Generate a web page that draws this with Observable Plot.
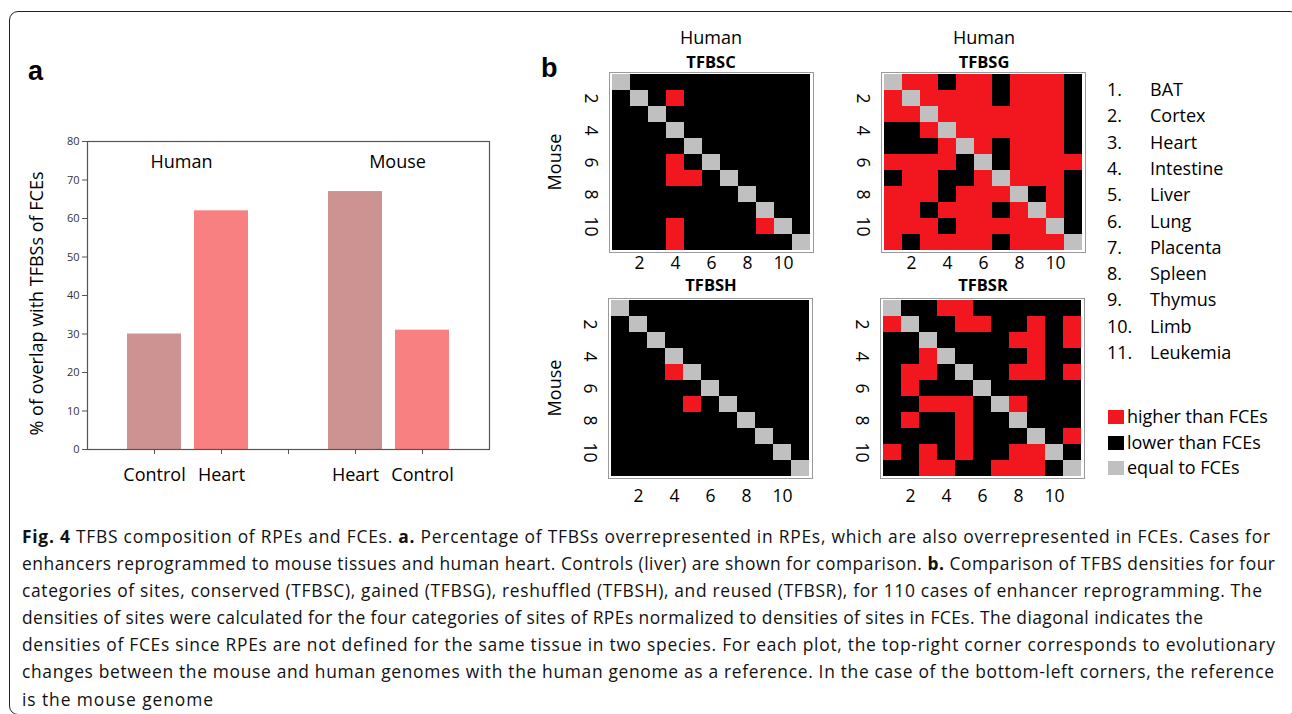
<!DOCTYPE html>
<html>
<head>
<meta charset="utf-8">
<script src="https://cdn.jsdelivr.net/npm/d3@7"></script>
<script src="https://cdn.jsdelivr.net/npm/@observablehq/plot@0.6"></script>
<style>
  html, body { margin: 0; padding: 0; background: #fff; }
  body { width: 1292px; height: 714px; position: relative; overflow: hidden; font-family: "Open Sans", sans-serif; color: #000; }
  .abs { position: absolute; }
  .ctr { transform: translate(-50%, -50%); white-space: nowrap; line-height: 1; }
  #frame { left: 9px; top: 11px; width: 1290px; height: 704px; border: 1.5px solid #222; border-radius: 9px; box-sizing: border-box; }
  .panel { font-family: "Liberation Sans", Arial, sans-serif; font-weight: bold; font-size: 27px; line-height: 1; }
  .t18 { font-size: 18px; }
  .tb { font-size: 16.5px; font-weight: bold; }
  #caption { left: 22px; top: 523px; font-size: 17.4px; line-height: 27.1px; white-space: nowrap; color: #111; }
  #caption div { display: block; }
  #caption span.ln { display: inline-block; }
  #caption b { font-weight: 700; }
  .legrow { font-size: 18px; white-space: nowrap; line-height: 26px; }
  .sw { display: inline-block; width: 16px; height: 14px; vertical-align: -1px; margin-right: 3px; }
</style>
</head>
<body>
<div id="frame" class="abs"></div>
<div class="abs panel" style="left:28px;top:58px;">a</div>
<div class="abs panel" style="left:541px;top:55px;">b</div>
<div id="bars" class="abs" style="left:0;top:100px;"></div>
<div id="hC" class="abs"></div>
<div id="hG" class="abs"></div>
<div id="hH" class="abs"></div>
<div id="hR" class="abs"></div>
<div id="titles"></div>
<div id="legend"></div>
<div id="caption" class="abs"></div>
<script>
// ---------- Data: panel a ----------
const barGroups = ["Human", "Human", "Mouse", "Mouse"];
const barLabels = ["Control", "Heart", "Heart", "Control"];
const barValues = [30, 62, 67, 31];
const groupNames = ["Human", "Mouse"];
const yTicksA = [0, 10, 20, 30, 40, 50, 60, 70, 80];
const yLabelA = "% of overlap with TFBSs of FCEs";

// ---------- Data: panel b (rows = Mouse tissue 1..11, cols = Human tissue 1..11) ----------
// H = higher than FCEs, L = lower than FCEs, E = equal to FCEs
const tissues = ["BAT", "Cortex", "Heart", "Intestine", "Liver", "Lung", "Placenta", "Spleen", "Thymus", "Limb", "Leukemia"];
const tfbsC = [
  "ELLLLLLLLLL",
  "LELHLLLLLLL",
  "LLELLLLLLLL",
  "LLLELLLLLLL",
  "LLLLELLLLLL",
  "LLLHLELLLLL",
  "LLLHHLELLLL",
  "LLLLLLLELLL",
  "LLLLLLLLELL",
  "LLLHLLLLHEL",
  "LLLHLLLLLLE"
];
const tfbsG = [
  "EHHLHHLHHHL",
  "HEHHHHLHHHL",
  "HHEHHHHHHHL",
  "LLHEHHHHHHL",
  "LLLHEHLHHHL",
  "HHHHLELHHHH",
  "LHHLLHEHHHL",
  "HHHLHHHELHL",
  "HHLHHHLHEHL",
  "HHHLHHHHHEL",
  "HLHHHHLHHHE"
];
const tfbsH = [
  "ELLLLLLLLLL",
  "LELLLLLLLLL",
  "LLELLLLLLLL",
  "LLLELLLLLLL",
  "LLLHELLLLLL",
  "LLLLLELLLLL",
  "LLLLHLELLLL",
  "LLLLLLLELLL",
  "LLLLLLLLELL",
  "LLLLLLLLLEL",
  "LLLLLLLLLLE"
];
const tfbsR = [
  "ELLHHLLLLLL",
  "HELLHHLLHLH",
  "LLELLLLHHLH",
  "LLHELLLLHLL",
  "LHHLELLHHLH",
  "LHLLLELLLLL",
  "LLHHHLEHLLL",
  "LHLLHLLELLL",
  "LLLLHLLLELH",
  "HLHLHLLHHEL",
  "LLHHLLHHHLE"
];
const stateCodes = ["H", "L", "E"];
const stateNames = ["higher than FCEs", "lower than FCEs", "equal to FCEs"];
const heatTicks = [2, 4, 6, 8, 10];

// ---------- Styles ----------
const RED = "#f2171f", BLACK = "#000000", GREY = "#c0c0c0";
const ROSY = "#cd9393", CORAL = "#f88080";
const FONT = "Open Sans, sans-serif";

// ---------- Panel a ----------
const barKeys = barGroups.map((g, i) => g + "·" + barLabels[i]);
const xDomain = [barKeys[0], barKeys[1], "gap", barKeys[2], barKeys[3]];
const bars = barKeys.map((k, i) => ({key: k, group: barGroups[i], label: barLabels[i], value: barValues[i]}));

const chartA = Plot.plot({
  width: 500, height: 400,
  marginLeft: 87, marginRight: 11, marginTop: 41, marginBottom: 51,
  style: {fontFamily: FONT, background: "transparent", overflow: "visible"},
  x: {type: "band", domain: xDomain, paddingInner: 0.2, paddingOuter: 0.6, axis: null},
  y: {domain: [0, 80], axis: null},
  color: {domain: barKeys, range: [ROSY, CORAL, ROSY, CORAL]},
  marks: [
    Plot.barY(bars, {x: "key", y: "value", fill: "key"}),
    Plot.frame({stroke: "#555", strokeWidth: 1.2}),
    Plot.axisY({ticks: yTicksA, tickSize: 5, tickPadding: 3, fontSize: 11, color: "#333", label: null, stroke: "#555"}),
    Plot.axisX({tickSize: 5, tickPadding: 14, fontSize: 18, label: null, stroke: "#555",
      tickFormat: d => d === "gap" ? "" : d.split("·")[1]}),
    Plot.text([yLabelA], {frameAnchor: "left", textAnchor: "middle", rotate: -90, dx: -50, dy: 8, fontSize: 18, fill: "#000"}),
    Plot.text([groupNames[0]], {x: () => barKeys[0], y: () => 74.5, dx: 27, fontSize: 18, fill: "#000"}),
    Plot.text([groupNames[1]], {x: () => barKeys[2], y: () => 74.5, dx: 42, fontSize: 18, fill: "#000"})
  ]
});
document.getElementById("bars").appendChild(chartA);

// ---------- Panel b heatmaps ----------
function heatmap(rows, tickPad) {
  const cells = [];
  rows.forEach((r, i) => r.split("").forEach((c, j) => cells.push({row: i + 1, col: j + 1, state: stateNames[stateCodes.indexOf(c)]})));
  return Plot.plot({
    width: 204 + 40 + 6, height: 180 + 6 + 40,
    marginLeft: 40, marginRight: 6, marginTop: 6, marginBottom: 40,
    style: {fontFamily: FONT, background: "transparent", overflow: "visible"},
    x: {type: "band", domain: d3.range(1, 12), padding: 0, axis: null},
    y: {type: "band", domain: d3.range(1, 12), padding: 0, axis: null},
    color: {domain: stateNames, range: [RED, BLACK, GREY]},
    marks: [
      Plot.cell(cells, {x: "col", y: "row", fill: "state", inset: 0, shapeRendering: "crispEdges"}),
      Plot.frame({stroke: "#9a9a9a", strokeWidth: 1}),
      Plot.axisX({ticks: heatTicks, tickSize: 0, tickPadding: tickPad, fontSize: 17.5, label: null}),
      Plot.text(heatTicks, {y: d => d, frameAnchor: "left", textAnchor: "middle", dx: -19, rotate: 90, fontSize: 17.5, fill: "#000"})
    ]
  });
}
const placements = [
  ["hC", tfbsC, 609, 72, 4],
  ["hG", tfbsG, 881, 72, 4],
  ["hH", tfbsH, 608, 298, 11],
  ["hR", tfbsR, 880, 298, 11]
];
for (const [id, rows, gx, gy, tp] of placements) {
  const el = document.getElementById(id);
  el.style.left = (gx - 40) + "px";
  el.style.top = (gy - 6) + "px";
  el.appendChild(heatmap(rows, tp));
}

// ---------- Titles ----------
const titleSpecs = [
  ["Human", "t18", 711, 37], ["TFBSC", "tb", 711, 62],
  ["Human", "t18", 984, 37], ["TFBSG", "tb", 984, 62],
  ["TFBSH", "tb", 711, 285], ["TFBSR", "tb", 983, 285]
];
const tdiv = document.getElementById("titles");
for (const [txt, cls, x, y] of titleSpecs) {
  const d = document.createElement("div");
  d.className = "abs ctr " + cls;
  d.style.left = x + "px"; d.style.top = y + "px";
  d.textContent = txt;
  tdiv.appendChild(d);
}
for (const y of [162, 388]) {
  const d = document.createElement("div");
  d.className = "abs t18";
  d.style.left = "554px"; d.style.top = y + "px";
  d.style.lineHeight = "1";
  d.style.transform = "translate(-50%, -50%) rotate(-90deg)";
  d.style.whiteSpace = "nowrap";
  d.textContent = "Mouse";
  tdiv.appendChild(d);
}

// ---------- Legend ----------
const ldiv = document.getElementById("legend");
tissues.forEach((t, i) => {
  const y = 89 + i * 26.3;
  const n = document.createElement("div");
  n.className = "abs legrow";
  n.style.left = "1107px"; n.style.top = (y - 13) + "px";
  n.textContent = (i + 1) + ".";
  ldiv.appendChild(n);
  const m = document.createElement("div");
  m.className = "abs legrow";
  m.style.left = "1150px"; m.style.top = (y - 13) + "px";
  m.textContent = t;
  ldiv.appendChild(m);
});
const swColors = [RED, BLACK, GREY];
stateNames.forEach((s, i) => {
  const y = 416 + i * 25.5;
  const r = document.createElement("div");
  r.className = "abs legrow";
  r.style.left = "1108px"; r.style.top = (y - 13) + "px";
  r.innerHTML = '<span class="sw" style="background:' + swColors[i] + '"></span>' + s;
  ldiv.appendChild(r);
});

// ---------- Caption ----------
const captionLines = [
  "<b>Fig. 4</b> TFBS composition of RPEs and FCEs. <b>a.</b> Percentage of TFBSs overrepresented in RPEs, which are also overrepresented in FCEs. Cases for",
  "enhancers reprogrammed to mouse tissues and human heart. Controls (liver) are shown for comparison. <b>b.</b> Comparison of TFBS densities for four",
  "categories of sites, conserved (TFBSC), gained (TFBSG), reshuffled (TFBSH), and reused (TFBSR), for 110 cases of enhancer reprogramming. The",
  "densities of sites were calculated for the four categories of sites of RPEs normalized to densities of sites in FCEs. The diagonal indicates the",
  "densities of FCEs since RPEs are not defined for the same tissue in two species. For each plot, the top-right corner corresponds to evolutionary",
  "changes between the mouse and human genomes with the human genome as a reference. In the case of the bottom-left corners, the reference",
  "is the mouse genome"
];
const captionWidths = [1248, 1253, 1240, 1181, 1253, 1252, 191];
const cap = document.getElementById("caption");
cap.innerHTML = captionLines.map(l => '<div><span class="ln">' + l + '</span></div>').join("");
cap.querySelectorAll("span.ln").forEach((sp, i) => {
  const w = sp.getBoundingClientRect().width;
  const n = sp.textContent.length;
  const ls = (captionWidths[i] - w) / Math.max(1, n - 1);
  sp.style.letterSpacing = ls.toFixed(3) + "px";
});
</script>
</body>
</html>
